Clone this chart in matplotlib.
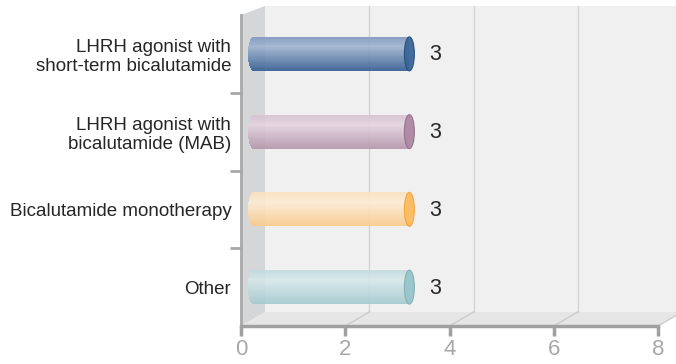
import numpy as np
import matplotlib
matplotlib.use("Agg")
import matplotlib.pyplot as plt
import matplotlib.transforms as mtransforms
from matplotlib.patches import Polygon, Ellipse
from matplotlib.lines import Line2D
from matplotlib.colors import to_rgb

categories = [
    "LHRH agonist with\nshort-term bicalutamide",
    "LHRH agonist with\nbicalutamide (MAB)",
    "Bicalutamide monotherapy",
    "Other",
]
values = [3, 3, 3, 3]
x_ticks = [0, 2, 4, 6, 8]

# shading per cylinder: top, highlight, bottom, end cap, cap edge
bar_shades = [
    ("#7f98bd", "#9fb3d0", "#335d90", "#3a6596", "#23507f"),
    ("#d5c0d0", "#e3d4df", "#b596ab", "#ad88a3", "#957089"),
    ("#fde2bf", "#fdecd5", "#f9ca8a", "#fbbb5f", "#f3a73e"),
    ("#c1dbdf", "#d8e8ea", "#a3cacf", "#98c4ca", "#7db1b8"),
]

plt.rcParams["font.family"] = ["Liberation Sans", "DejaVu Sans"]

W, H = 676, 364
fig = plt.figure(figsize=(W / 100, H / 100), dpi=100)
fig.patch.set_facecolor("white")
ax = fig.add_axes([241 / W, 38 / H, 417 / W, 311 / H])
n = len(categories)
xmax = x_ticks[-1]
ax.set_xlim(0, xmax)
ax.set_ylim(0, n)
ax.patch.set_visible(False)

# --- 3D box: back wall, floor, side wall -----------------------------------
DEPTH_X = 24        # pixels to the right for the back plane
DEPTH_Y_BOT = 14    # upward shift of the back plane at the floor
DEPTH_Y_TOP = 9     # upward shift of the back plane at the top


def proj(xd, yd, back):
    px, py = ax.transData.transform((xd, yd))
    if back:
        frac = yd / n
        px += DEPTH_X
        py += DEPTH_Y_BOT + (DEPTH_Y_TOP - DEPTH_Y_BOT) * frac
    return (px, py)


ident = mtransforms.IdentityTransform()


def add_poly(pts, color, z):
    p = Polygon(pts, closed=True, facecolor=color, edgecolor="none",
                transform=ident, clip_on=False, zorder=z)
    ax.add_artist(p)


def add_line(p0, p1, color, lw, z):
    ln = Line2D([p0[0], p1[0]], [p0[1], p1[1]], color=color, lw=lw,
                transform=ident, clip_on=False, zorder=z)
    ax.add_artist(ln)


# back wall
add_poly([proj(0, 0, True), proj(xmax + 1, 0, True),
          proj(xmax + 1, n, True), proj(0, n, True)], "#f0f0f0", 0.2)
# floor
add_poly([proj(0, 0, False), proj(xmax, 0, False),
          proj(xmax, 0, True), proj(0, 0, True)], "#e6e6e6", 0.3)
# left wall
add_poly([proj(0, 0, False), proj(0, n, False),
          proj(0, n, True), proj(0, 0, True)], "#d5d6d8", 0.4)

for xt in x_ticks[1:]:
    add_line(proj(xt, 0, True), proj(xt, n, True), "#d2d2d2", 1.0, 0.5)
    add_line(proj(xt, 0, False), proj(xt, 0, True), "#cccccc", 1.0, 0.5)

# --- cylinders --------------------------------------------------------------
bar_h = 0.437
cap_px = 10
px_per_unit = ax.transData.transform((1, 0))[0] - ax.transData.transform((0, 0))[0]
cap_w = cap_px / px_per_unit
shift = mtransforms.offset_copy(ax.transData, fig=fig, x=12, y=0, units="dots")
positions = np.arange(n)[::-1] + 0.5
n_strips = 40


def shade(top, hi, bot, t):
    # t = 0 at top, 1 at bottom
    top, hi, bot = map(np.array, (to_rgb(top), to_rgb(hi), to_rgb(bot)))
    if t < 0.28:
        return top + (hi - top) * (t / 0.28)
    return hi + (bot - hi) * ((t - 0.28) / 0.72)


for yc, val, (c_top, c_hi, c_bot, c_cap, c_edge) in zip(positions, values, bar_shades):
    edges = np.linspace(yc + bar_h / 2, yc - bar_h / 2, n_strips + 1)
    centers = (edges[:-1] + edges[1:]) / 2
    for i, ys in enumerate(centers):
        t = i / (n_strips - 1)
        rel = (ys - yc) / (bar_h / 2)
        round_l = (cap_w / 2) * np.sqrt(max(0.0, 1 - rel ** 2))
        cont = ax.barh(ys, val + round_l, height=bar_h / n_strips, left=-round_l,
                       color=shade(c_top, c_hi, c_bot, t), alpha=0.9,
                       linewidth=0, antialiased=False, zorder=2)
        for p in cont.patches:
            p.set_transform(shift)
    cap = Ellipse((val, yc), width=cap_w, height=bar_h, facecolor=c_cap,
                  edgecolor=c_edge, lw=0.8, alpha=0.95, transform=shift, zorder=3)
    ax.add_patch(cap)
    ax.annotate(f"{val:g}", xy=(val, yc), xycoords=shift,
                xytext=(20, -1), textcoords="offset pixels",
                ha="left", va="center", fontsize=15.5, color="#262626", zorder=4)

ax.set_xlim(0, xmax)
ax.set_ylim(0, n)

# --- axes styling -----------------------------------------------------------
for side in ("top", "right"):
    ax.spines[side].set_visible(False)
ax.spines["left"].set_color("#a8a8a8")
ax.spines["left"].set_linewidth(2)
ax.spines["bottom"].set_color("#a0a0a0")
ax.spines["bottom"].set_linewidth(2.5)
ax.spines["left"].set_zorder(5)
ax.spines["bottom"].set_zorder(5)

ax.set_xticks(x_ticks)
ax.set_xticklabels([str(v) for v in x_ticks])
ax.tick_params(axis="x", direction="out", length=7.5, width=2.5, color="#a0a0a0",
               labelsize=16, labelcolor="#a8a8a8", pad=2)

ax.set_yticks(positions)
ax.set_yticklabels(categories)
ax.set_yticks(np.arange(1, n), minor=True)
ax.tick_params(axis="y", which="major", length=0, pad=7, labelsize=13.5,
               labelcolor="#262626")
ax.tick_params(axis="y", which="minor", direction="out", length=8, width=2,
               color="#a8a8a8")

fig.savefig("out.png", dpi=100)
